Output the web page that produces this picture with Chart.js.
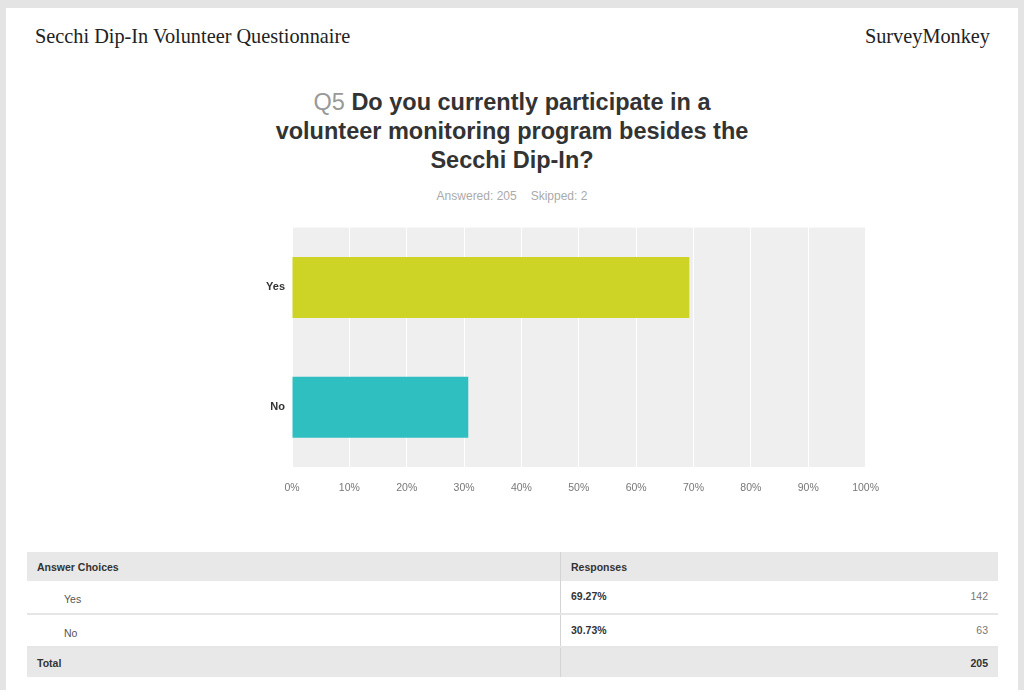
<!DOCTYPE html>
<html>
<head>
<meta charset="utf-8">
<script src="https://cdn.jsdelivr.net/npm/chart.js@4/dist/chart.umd.min.js"></script>
<style>
  html, body { margin: 0; padding: 0; }
  body { width: 1024px; height: 690px; background: #e4e4e4; position: relative; overflow: hidden; font-family: "Liberation Sans", Arial, sans-serif; }
  #page { position: absolute; left: 6px; top: 8px; width: 1012px; height: 682px; background: #ffffff; }
  .hdr { position: absolute; top: 17px; font-family: "Liberation Serif", "Times New Roman", serif; font-size: 20.3px; color: #222; }
  #title { position: absolute; left: 0; width: 1012px; top: 80px; text-align: center; font-size: 23.5px; font-weight: bold; color: #333; line-height: 29px; }
  #title .q { font-weight: normal; color: #999; }
  #stats { position: absolute; left: 0; width: 1012px; top: 181px; text-align: center; font-size: 12px; color: #aaa; }
  #stats span { margin: 0 7px; }
  #chartBox { position: absolute; left: 238px; top: 206px; width: 650px; height: 284px; }
  table { position: absolute; left: 21px; top: 544px; width: 971px; border-collapse: collapse; font-family: "Liberation Sans", Arial, sans-serif; font-size: 10.5px; color: #333; }
  td { padding: 0 10px; }
  tr.head td, tr.total td { background: #e8e8e8; font-weight: bold; height: 29px; }
  tr.row td { height: 33px; border-bottom: 2px solid #e6e6e6; vertical-align: top; padding-top: 9px; box-sizing: border-box; }
  td.c1 { width: 513px; border-right: 1px solid #d4d4d4; }
  tr.row td.c1 { padding-left: 37px; padding-top: 12px; color: #555; }
  td.pct { font-weight: bold; }
  td.num { text-align: right; color: #777; }
  tr.total td.num { color: #333; }
</style>
</head>
<body>
<div id="page">
  <div class="hdr" style="left:29px;">Secchi Dip-In Volunteer Questionnaire</div>
  <div class="hdr" style="right:28px;">SurveyMonkey</div>
  <div id="title"><span class="q">Q5</span> Do you currently participate in a<br>volunteer monitoring program besides the<br>Secchi Dip-In?</div>
  <div id="stats"><span id="answered"></span><span id="skipped"></span></div>
  <div id="chartBox"><canvas id="chart" width="650" height="284"></canvas></div>
  <table id="tbl"></table>
</div>
<script>
// Survey answers for Q5
const choices = ['Yes', 'No'];
const percents = [69.27, 30.73];
const counts = [142, 63];
const answeredCount = 205;
const skippedCount = 2;
const tickValues = [0, 10, 20, 30, 40, 50, 60, 70, 80, 90, 100];
const barColors = ['#cdd426', '#2fbfc0'];

document.getElementById('answered').textContent = 'Answered: ' + answeredCount;
document.getElementById('skipped').textContent = 'Skipped: ' + skippedCount;

// Gray plot background behind the gridlines
const plotBackground = {
  id: 'plotBackground',
  beforeDraw(chart) {
    const { ctx, chartArea: a } = chart;
    ctx.save();
    ctx.fillStyle = '#efefef';
    ctx.fillRect(a.left, a.top, a.right - a.left, a.bottom - a.top);
    ctx.restore();
  }
};

new Chart(document.getElementById('chart'), {
  type: 'bar',
  data: {
    labels: choices,
    datasets: [{
      data: percents,
      backgroundColor: barColors,
      borderWidth: 0,
      categoryPercentage: 1,
      barPercentage: 0.51
    }]
  },
  options: {
    indexAxis: 'y',
    responsive: false,
    animation: false,
    layout: { padding: { top: 6, right: 0, left: 0, bottom: 0 } },
    plugins: { legend: { display: false }, tooltip: { enabled: false } },
    scales: {
      x: {
        min: 0, max: 100,
        afterBuildTicks(scale) { scale.ticks = tickValues.map(v => ({ value: v })); },
        afterFit(scale) { scale.height = 31; },
        grid: { color: '#ffffff', lineWidth: 1, drawTicks: false },
        border: { display: false },
        ticks: {
          padding: 15,
          color: '#777',
          font: { family: 'Liberation Sans, Arial, sans-serif', size: 10.5 },
          callback: v => v + '%'
        }
      },
      y: {
        afterFit(scale) { scale.width = 48; },
        grid: { display: false, drawTicks: false },
        border: { display: false },
        ticks: {
          padding: 7,
          color: '#333',
          font: { family: 'Liberation Sans, Arial, sans-serif', size: 11, weight: 'bold' }
        }
      }
    }
  },
  plugins: [plotBackground]
});

// Response table built from the same arrays
const tbl = document.getElementById('tbl');
let html = '<tr class="head"><td class="c1">Answer Choices</td><td colspan="2">Responses</td></tr>';
choices.forEach((c, i) => {
  html += '<tr class="row"><td class="c1">' + c + '</td><td class="pct">' + percents[i].toFixed(2) + '%</td><td class="num">' + counts[i] + '</td></tr>';
});
html += '<tr class="total"><td class="c1">Total</td><td></td><td class="num">' + answeredCount + '</td></tr>';
tbl.innerHTML = html;
</script>
</body>
</html>
